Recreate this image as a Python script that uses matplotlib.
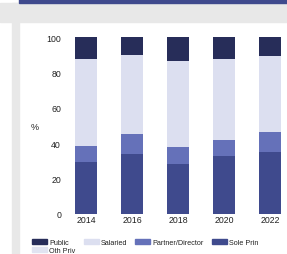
import matplotlib
matplotlib.use('Agg')
import matplotlib.pyplot as plt
import numpy as np
from matplotlib.patches import Rectangle, Patch

plt.rcParams['font.family'] = ['Liberation Sans', 'DejaVu Sans']

years = ['2014', '2016', '2018', '2020', '2022']
sole_prin = [29.4, 33.9, 28.2, 32.6, 35.2]
partner = [9.2, 11.3, 9.8, 9.0, 11.3]
oth_priv = [0.0, 0.0, 0.0, 0.0, 0.0]
salaried = [49.1, 44.8, 48.2, 45.8, 42.9]
public = [12.3, 10.0, 13.8, 12.6, 10.6]

c_public = '#272d59'
c_salaried = '#dcdff0'
c_partner = '#6571b9'
c_sole = '#3f4a8d'
c_oth = '#e1e3f1'


def main():
    fig = plt.figure(figsize=(2.87, 2.55), dpi=100)
    W, H = 287, 255

    # page decoration: header strip, grey band, left rail
    fig.patches.append(Rectangle((0, (H - 23) / H), 1, 19 / H, transform=fig.transFigure,
                                 color='#e8e8e8', zorder=0))
    fig.patches.append(Rectangle((19 / W, (H - 4) / H), 1, 4 / H, transform=fig.transFigure,
                                 color='#3f4a8d', zorder=1))
    fig.patches.append(Rectangle((12 / W, 0), 7 / W, (H - 4) / H, transform=fig.transFigure,
                                 color='#e8e8e8', zorder=0))

    ax = fig.add_axes([68 / W, (H - 215) / H, (W - 68) / W, 177 / H])
    x = np.arange(len(years))
    w = 0.48
    bottom = np.zeros(len(years))
    for vals, col, lab in [(sole_prin, c_sole, 'Sole Prin'),
                           (partner, c_partner, 'Partner/Director'),
                           (oth_priv, c_oth, 'Oth Priv'),
                           (salaried, c_salaried, 'Salaried'),
                           (public, c_public, 'Public')]:
        ax.bar(x, vals, w, bottom=bottom, color=col, label=lab)
        bottom += np.array(vals)

    ax.set_ylim(0, 100)
    ax.set_xlim(-(86 - 68) / 46, 4 + (287 - 270) / 46)
    ax.set_xticks(x)
    ax.set_xticklabels(years)
    ax.set_yticks([0, 20, 40, 60, 80, 100])
    ax.tick_params(length=0, labelsize=6.3, colors='#222222')
    ax.tick_params(axis='y', pad=5)
    ax.tick_params(axis='x', pad=1)
    for s in ax.spines.values():
        s.set_visible(False)
    fig.text(35 / W, (H - 127) / H, '%', fontsize=6.5, color='#222222', ha='center', va='center')

    handles = [Patch(color=c_public), Patch(color=c_oth), Patch(color=c_salaried),
               Patch(color=c_partner), Patch(color=c_sole)]
    labels = ['Public', 'Oth Priv', 'Salaried', 'Partner/Director', 'Sole Prin']
    fig.legend(handles, labels, ncol=4, loc='upper left', bbox_to_anchor=(32 / W, (H - 240) / H),
               frameon=False, fontsize=5.2, handlelength=2.1, handleheight=0.7,
               handletextpad=0.3, columnspacing=1.1, labelspacing=0.15, borderpad=0,
               borderaxespad=0, labelcolor='#222222')

    fig.savefig('out.png', dpi=100)


if __name__ == '__main__':
    main()
